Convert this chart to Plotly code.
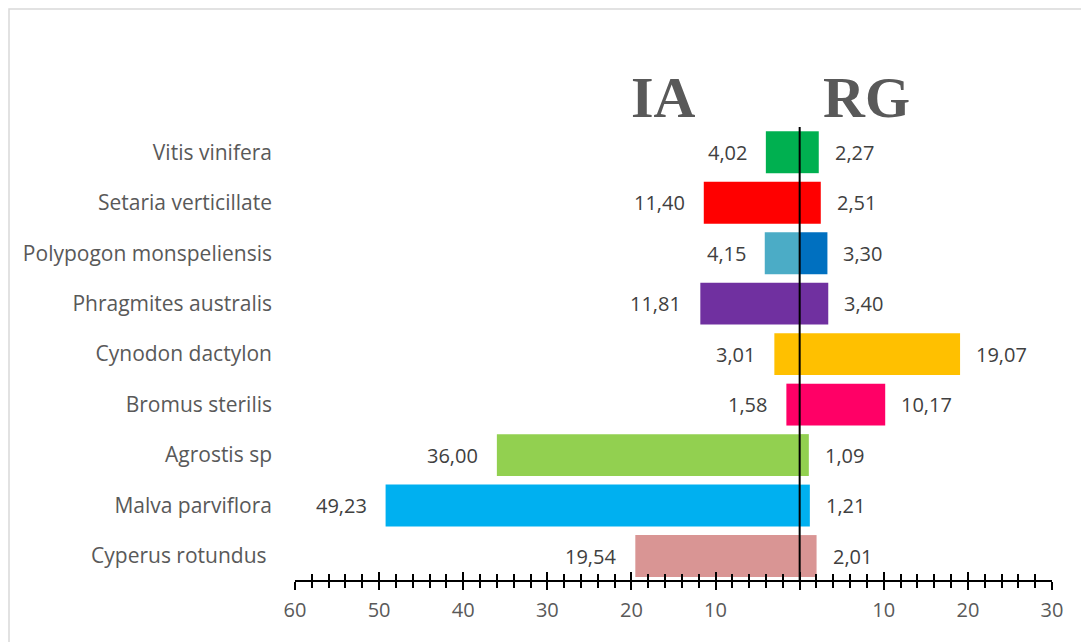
import plotly.graph_objects as go

species = ["Vitis vinifera", "Setaria verticillate", "Polypogon monspeliensis",
           "Phragmites australis", "Cynodon dactylon", "Bromus sterilis",
           "Agrostis sp", "Malva parviflora", "Cyperus rotundus\u00a0"]
ia_values = [4.02, 11.40, 4.15, 11.81, 3.01, 1.58, 36.00, 49.23, 19.54]
rg_values = [2.27, 2.51, 3.30, 3.40, 19.07, 10.17, 1.09, 1.21, 2.01]
ia_colors = ["#00B050", "#FF0000", "#4BACC6", "#7030A0", "#FFC000", "#FF0066",
             "#92D050", "#00B0F0", "#D99594"]
rg_colors = ["#00B050", "#FF0000", "#0070C0", "#7030A0", "#FFC000", "#FF0066",
             "#92D050", "#00B0F0", "#D99594"]
tick_vals = [-60, -50, -40, -30, -20, -10, 0, 10, 20, 30]
tick_text = ["60", "50", "40", "30", "20", "10", "", "10", "20", "30"]

def fmt(v):
    return f"{v:.2f}".replace(".", ",")

FONT = "Open Sans"
FS = 21
fig = go.Figure()
fig.add_trace(go.Bar(y=species, x=[-v for v in ia_values], orientation="h",
                     marker=dict(color=ia_colors, line=dict(width=0)),
                     showlegend=False, hoverinfo="skip"))
fig.add_trace(go.Bar(y=species, x=rg_values, orientation="h",
                     marker=dict(color=rg_colors, line=dict(width=0)),
                     showlegend=False, hoverinfo="skip"))
# invisible trace on second x-axis for inside ticks
fig.add_trace(go.Scatter(x=[-60, 30], y=[species[0], species[0]], xaxis="x2",
                         mode="markers", marker=dict(opacity=0), showlegend=False,
                         hoverinfo="skip"))

annotations = []
for s, a, r in zip(species, ia_values, rg_values):
    annotations.append(dict(x=-a, y=s, xref="x", yref="y", text=fmt(a),
                            showarrow=False, xanchor="right", yanchor="middle", xshift=-17,
                            font=dict(family=FONT, size=FS - 1, color="#404040")))
    annotations.append(dict(x=r, y=s, xref="x", yref="y", text=fmt(r),
                            showarrow=False, xanchor="left", yanchor="middle", xshift=14,
                            font=dict(family=FONT, size=FS - 1, color="#404040")))

# page is rendered with an 8px body margin
OFF = 8
L, R, T, B = 295 - OFF, 37, 127 - OFF, 62
W, H = 1089 - OFF, 642 - OFF
pw, ph = W - L - R, H - T - B

annotations.append(dict(x=(663 - OFF - L) / pw, y=1 + (T - (97 - OFF)) / ph,
                        xref="paper", yref="paper", text="<b>IA</b>",
                        xanchor="center", yanchor="middle", showarrow=False,
                        font=dict(family="Liberation Serif", size=58, color="#595959")))
annotations.append(dict(x=(866 - OFF - L) / pw, y=1 + (T - (97 - OFF)) / ph,
                        xref="paper", yref="paper", text="<b>RG</b>",
                        xanchor="center", yanchor="middle", showarrow=False,
                        font=dict(family="Liberation Serif", size=58, color="#595959")))

fig.update_layout(
    width=W, height=H,
    margin=dict(l=L, r=R, t=T, b=B, pad=0),
    paper_bgcolor="white", plot_bgcolor="white",
    barmode="overlay", bargap=0.17,
    annotations=annotations,
    xaxis=dict(range=[-60, 30], tickmode="array", tickvals=tick_vals, ticktext=tick_text,
               ticks="outside", ticklen=8, tickwidth=1.5, tickcolor="black",
               showline=True, linecolor="black", linewidth=2,
               showgrid=False, zeroline=False,
               minor=dict(tickmode="linear", tick0=0, dtick=2, ticks="outside",
                          ticklen=6, tickwidth=1.5, tickcolor="black", showgrid=False),
               tickfont=dict(family=FONT, size=FS - 1, color="#595959"),
               ticklabelstandoff=3),
    xaxis2=dict(range=[-60, 30], overlaying="x", anchor="y", side="bottom",
                tickmode="array", tickvals=tick_vals, showticklabels=False,
                ticks="inside", ticklen=8, tickwidth=1.5, tickcolor="black",
                showline=False, showgrid=False, zeroline=False,
                minor=dict(tickmode="linear", tick0=0, dtick=2, ticks="inside",
                           ticklen=6, tickwidth=1.5, tickcolor="black", showgrid=False)),
    yaxis=dict(type="category", categoryorder="array", categoryarray=species[::-1],
               range=[-0.475, 8.5], showgrid=False, zeroline=False, showline=False,
               ticks="", ticklabelstandoff=22,
               tickfont=dict(family=FONT, size=FS, color="#595959")),
    shapes=[
        dict(type="line", xref="x", yref="paper", x0=0, x1=0, y0=0, y1=1,
             line=dict(color="black", width=2), layer="above"),
        dict(type="rect", xref="paper", yref="paper",
             x0=(1 - L) / pw, x1=(W + 5 - L) / pw,
             y0=-(B + 5) / ph, y1=1 + (T - 1) / ph,
             line=dict(color="#D9D9D9", width=1.5), layer="below"),
    ],
)

fig.write_html("out.html")
